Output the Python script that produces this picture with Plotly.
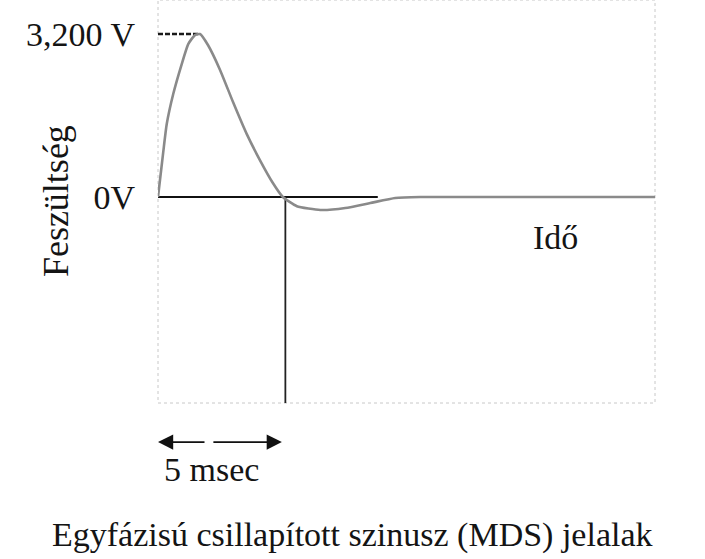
import plotly.graph_objects as go

# Waveform: time in ms, voltage in V
time_ms = [0, 0.21, 0.35, 0.61, 0.95, 1.21, 1.48, 1.68, 2.0, 2.48, 3.0, 3.56,
           4.08, 4.6, 5.0, 5.56, 6.5, 7.5, 8.5, 9.5, 10.5, 19.9]
voltage = [0, 883, 1433, 2022, 2611, 3003, 3180, 3200, 2984, 2500, 1870, 1230,
           726, 275, 0, -180, -255, -216, -118, -20, 0, 0]

peak_time = [0, 1.68]
peak_level = [3200, 3200]
base_time = [0, 8.8]
base_level = [0, 0]
cross_time = [5.1, 5.1]

y_tick_vals = [0, 3200]
y_tick_text = ["0V", "3,200 V"]

X_RANGE = [0, 19.9]
Y_RANGE = [-4044, 3868]
cross_level = [0, Y_RANGE[0]]

FONT = "Liberation Serif, Times New Roman, serif"
TXT = "#141414"

fig = go.Figure()
fig.add_trace(go.Scatter(x=peak_time, y=peak_level, mode="lines",
                         line=dict(color="#1a1a1a", width=2.4, dash="5px,2px"),
                         hoverinfo="skip", cliponaxis=False))
fig.add_trace(go.Scatter(x=base_time, y=base_level, mode="lines",
                         line=dict(color="#111", width=2),
                         hoverinfo="skip"))
fig.add_trace(go.Scatter(x=cross_time, y=cross_level, mode="lines",
                         line=dict(color="#222", width=1.8),
                         hoverinfo="skip"))
fig.add_trace(go.Scatter(x=time_ms, y=voltage, mode="lines",
                         line=dict(color="#8a8a8a", width=2.6, shape="spline",
                                   smoothing=0.5),
                         hoverinfo="skip", cliponaxis=False))

annotations = [
    dict(text="Feszültség", xref="paper", yref="paper", x=-0.206, y=0.5,
         xanchor="center", yanchor="middle", textangle=-90, showarrow=False,
         font=dict(family=FONT, size=36, color=TXT)),
    dict(text="Idő", xref="x", yref="y", x=15.9, y=-785,
         xanchor="center", yanchor="middle", showarrow=False,
         font=dict(family=FONT, size=34, color=TXT)),
    dict(text="5 msec", xref="x", yref="paper", x=2.16, y=-0.166,
         xanchor="center", yanchor="middle", showarrow=False,
         font=dict(family=FONT, size=34, color=TXT)),
    dict(text="Egyfázisú csillapított szinusz (MDS) jelalak", xref="paper",
         yref="paper", x=0.391, y=-0.3275, xanchor="center", yanchor="middle",
         showarrow=False, font=dict(family=FONT, size=34, color=TXT)),
    # arrows of the 5 msec marker
    dict(text="", xref="x", yref="paper", x=0, y=-0.097, ax=48, ay=0,
         showarrow=True, arrowhead=2, arrowsize=1.9, arrowwidth=1.6,
         arrowcolor="#111"),
    dict(text="", xref="x", yref="paper", x=4.96, y=-0.097, ax=-70, ay=0,
         showarrow=True, arrowhead=2, arrowsize=1.9, arrowwidth=1.6,
         arrowcolor="#111"),
]

shapes = [
    dict(type="rect", xref="paper", yref="paper", x0=0, x1=1, y0=0, y1=1,
         line=dict(color="#c8c8c8", width=1, dash="dot"), layer="below"),
]

fig.update_layout(
    width=705, height=559,
    margin=dict(l=158, r=50, t=0, b=156),
    paper_bgcolor="white", plot_bgcolor="white",
    showlegend=False,
    annotations=annotations,
    shapes=shapes,
    xaxis=dict(range=X_RANGE, showgrid=False, zeroline=False,
               showticklabels=False, ticks="", showline=False),
    yaxis=dict(range=Y_RANGE, showgrid=False, zeroline=False,
               tickvals=y_tick_vals, ticktext=y_tick_text, ticks="",
               ticklabelstandoff=22, showline=False,
               tickfont=dict(family=FONT, size=34, color=TXT)),
)

fig.write_html("out.html")
